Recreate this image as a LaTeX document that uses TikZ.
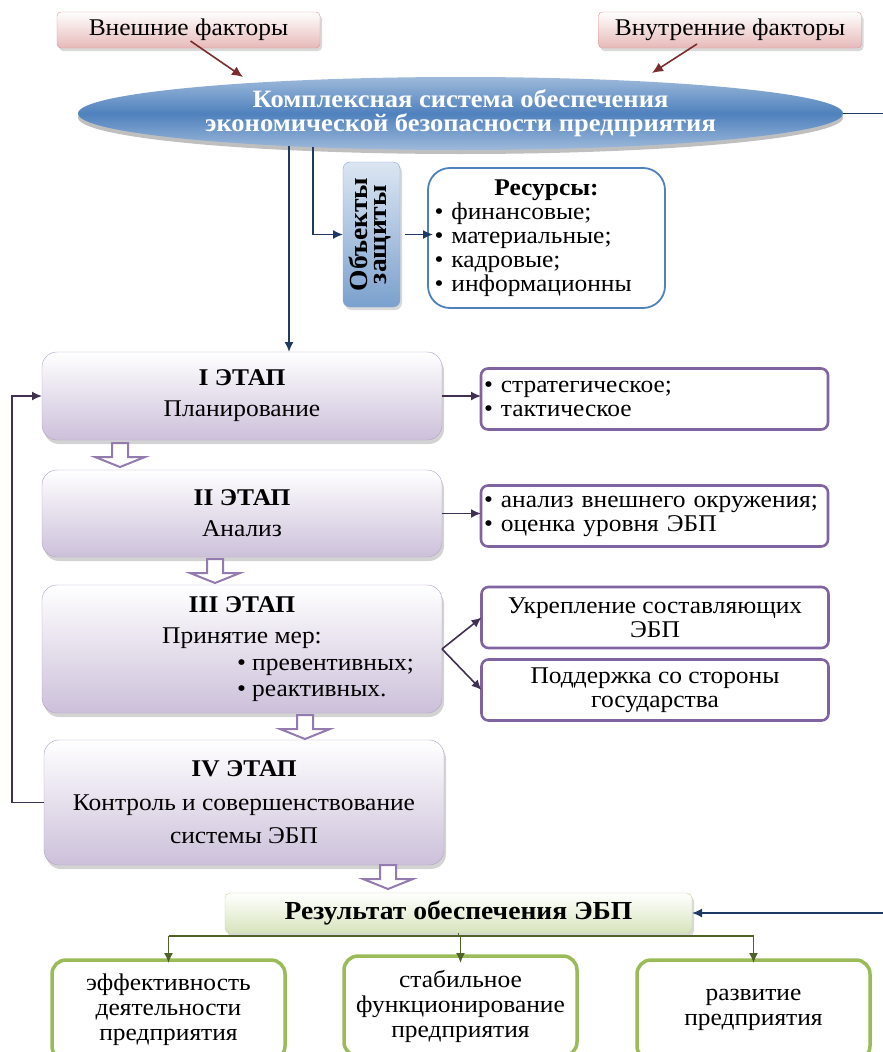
\documentclass[tikz,border=0pt]{standalone}
\usepackage{fontspec}
\setmainfont{Liberation Serif}[FakeStretch=1.06]
\usepackage{graphicx}
\usetikzlibrary{shapes.geometric,shadows,arrows.meta}

\definecolor{navy}{HTML}{1F3864}
\definecolor{wine}{HTML}{7B2C2C}
\definecolor{rose}{HTML}{E6B9B8}
\definecolor{roseline}{HTML}{D99694}
\definecolor{steel}{HTML}{4F81BD}
\definecolor{lilac}{HTML}{B3A2C7}
\definecolor{lilacfill}{HTML}{CCC0DA}
\definecolor{plum}{HTML}{403152}
\definecolor{violet}{HTML}{8064A2}
\definecolor{olive}{HTML}{4F6228}
\definecolor{leaf}{HTML}{9BBB59}
\definecolor{mint}{HTML}{D7E4BD}

\newcommand*\txtsize{\fontsize{24}{25}\selectfont}
\newcommand*\stagewd{400pt}
\newcommand*\notewd {347pt}
\newcommand*\outwd  {233pt}
% hollow arrow between two stages: x, top y
\newcommand*\stagearrow[2]{%
  \draw[hollow] (#1-8,#2) -- (#1+8,#2) -- (#1+8,#2+14) -- (#1+25,#2+14)
     -- (#1,#2+24) -- (#1-25,#2+14) -- (#1-8,#2+14) -- cycle;}

\tikzset{
    basebox/.style = {rectangle, align=center, inner sep=3pt, outer sep=0pt, font=\txtsize},
    factor/.style  = {basebox, draw=roseline, rounded corners=4pt,
                      top color=white, bottom color=rose,
                      minimum width=263pt, minimum height=36pt,
                      drop shadow={shadow xshift=2pt, shadow yshift=-3pt, opacity=0.3}},
    core/.style    = {ellipse, inner sep=0pt, minimum width=765pt, minimum height=73pt,
                      top color=steel!55, bottom color=steel!55, middle color=steel,
                      text=white, align=center,
                      font=\fontsize{25}{24}\selectfont\bfseries,
                      drop shadow={shadow xshift=0pt, shadow yshift=-4pt, opacity=0.5}},
    guard/.style   = {basebox, draw=steel!70, rounded corners=7pt,
                      top color=steel!20, bottom color=steel!75,
                      minimum width=57pt, minimum height=145pt,
                      font=\fontsize{26}{23}\selectfont\bfseries,
                      drop shadow={shadow xshift=2pt, shadow yshift=-3pt, opacity=0.3}},
    resbox/.style  = {basebox, draw=steel, line width=1.8pt, rounded corners=22pt,
                      fill=white, minimum width=237pt, minimum height=140pt,
                      text width=224pt, align=left, font=\fontsize{24}{24}\selectfont},
    stage/.style   = {basebox, draw=lilac, rounded corners=15pt,
                      top color=white, bottom color=lilacfill,
                      minimum width=\stagewd,
                      drop shadow={shadow xshift=2pt, shadow yshift=-4pt, opacity=0.35}},
    note/.style    = {basebox, draw=violet, line width=2.6pt, rounded corners=7pt,
                      fill=white, minimum width=\notewd, minimum height=61pt,
                      font=\fontsize{24}{24}\selectfont},
    result/.style  = {basebox, draw=leaf!60, rounded corners=5pt,
                      top color=white, bottom color=mint,
                      minimum width=467pt, minimum height=40pt,
                      font=\fontsize{26}{26}\selectfont\bfseries,
                      drop shadow={shadow xshift=2pt, shadow yshift=-3pt, opacity=0.3}},
    outcome/.style = {basebox, draw=leaf, line width=3.5pt, rounded corners=14pt,
                      fill=white, minimum width=\outwd, minimum height=100pt},
    hollow/.style  = {draw=violet!85, fill=white, line width=2pt},
    navyline/.style   = {draw=navy, line width=1.6pt, -{Latex[length=10pt,width=9pt]}},
    factorline/.style = {draw=wine, line width=1.6pt, -{Latex[length=11pt,width=10pt]}},
    stageline/.style  = {draw=plum, line width=1.6pt, -{Latex[length=10pt,width=9pt]}},
    greenline/.style  = {draw=olive, line width=1.6pt},
  }

\begin{document}
\begin{tikzpicture}[x=1pt,y=-1pt]
  \useasboundingbox (0,0) rectangle (883,1052);

  % factors and the central ellipse
  \node[factor] (ext) at (188.5,30) {Внешние факторы};
  \node[factor] (int) at (730,30)   {Внутренние факторы};
  \node[core]   (core) at (460.5,113.5)
        {Комплексная система обеспечения\\экономической безопасности предприятия};

  \coordinate (extin) at (243,77);
  \coordinate (intin) at (652,73);
  \draw[factorline] ([shift={(2,-7)}]ext.south) -- (extin);
  \draw[factorline] ([shift={(-33,-4)}]int.south) -- (intin);

  % objects of protection
  \node[guard]  (guard) at (371.5,234.5)
        {\rotatebox{90}{\begin{tabular}{@{}c@{}}Объекты\\[-4pt]защиты\end{tabular}}};
  \node[resbox] (res) at (546.5,238)
        {{\centering\textbf{Ресурсы:}\par}
         • финансовые;\\
         • материальные;\\
         • кадровые;\\
         • информационны};

  \coordinate (drop)   at (289,146);
  \coordinate (branch) at (313,147);

  % stages
  \node[stage, minimum height=88pt]  (I)   at (242,396)
        {\textbf{I ЭТАП}\\[6pt]Планирование};
  \node[stage, minimum height=87pt]  (II)  at (242,513.5)
        {\textbf{II ЭТАП}\\[6pt]Анализ};
  \node[stage, minimum height=128pt] (III) at (242,649)
        {\textbf{III ЭТАП}\\[6pt]Принятие мер:\\[2pt]
         \hspace*{190pt}\makebox[200pt][l]{• превентивных;}\\[1pt]
         \hspace*{190pt}\makebox[200pt][l]{• реактивных.}};
  \node[stage, minimum height=125pt] (IV)  at (244,802.5)
        {\textbf{IV ЭТАП}\\[9pt]Контроль и совершенствование\\[8pt]системы ЭБП};

  % notes to the right of the stages
  \node[note, text width=341pt, align=left] (plan)  at (654.5,399)
        {• стратегическое;\\• тактическое};
  \node[note, text width=341pt, align=left] (scan)  at (654.5,516)
        {\mbox{• анализ внешнего окружения;}\\• оценка уровня ЭБП};
  \node[note] (build) at (655,617.5) {Укрепление составляющих\\ЭБП};
  \node[note] (state) at (655,690)   {Поддержка со стороны\\государства};

  % result and outcomes
  \node[result]  (result) at (458.5,913) {Результат обеспечения ЭБП};
  \node[outcome] (out1) at (168.5,1010) {эффективность\\деятельности\\предприятия};
  \node[outcome] (out2) at (460.5,1006) {стабильное\\функционирование\\предприятия};
  \node[outcome] (out3) at (753.5,1010) {развитие\\предприятия};

  % connectors
  \draw[navyline] (drop) -- (drop |- I.north);
  \draw[navyline] (branch) |- (guard.west);
  \draw[navyline] ([xshift=5pt]guard.east) -- ([xshift=5pt]guard.east -| res.west);
  \draw[navyline] (core.east) -- ++(52,0) |- (result.east);

  \draw[stageline] (I.east)  -- (I.east -| plan.west);
  \draw[stageline] (II.east) -- (II.east -| scan.west);
  \draw[stageline] (III.east) -- (build.west);
  \draw[stageline] (III.east) -- (state.west);
  \draw[stageline] (IV.west) -- ++(-32,0) |- (I.west);

  \stagearrow{120}{443}
  \stagearrow{215}{559}
  \stagearrow{305}{715}
  \stagearrow{388}{865}

  \draw[greenline] (result.south) -- ++(0,3) coordinate (fork);
  \draw[greenline] (fork -| out1.north) -- (fork -| out3.north);
  \foreach \o in {out1,out2,out3}
    \draw[greenline,-{Latex[length=10pt,width=9pt]}] (fork -| \o.north) -- ([yshift=-3pt]\o.north |- 0,960);
\end{tikzpicture}
\end{document}
